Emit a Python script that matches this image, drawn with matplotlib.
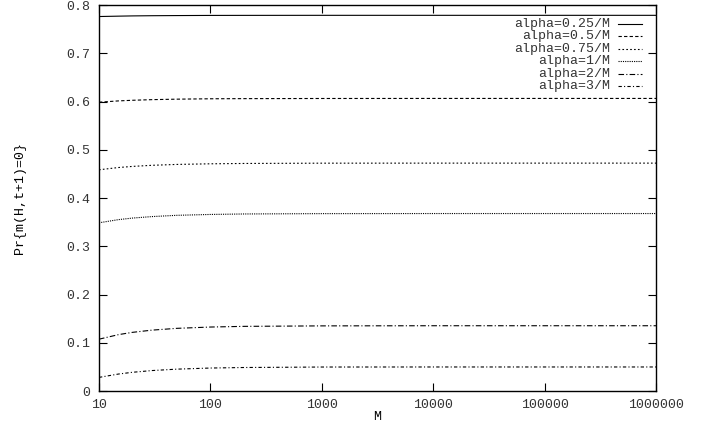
import matplotlib
matplotlib.use("Agg")
import matplotlib.pyplot as plt
from matplotlib.ticker import FixedLocator, FuncFormatter, NullLocator

plt.rcParams['font.family'] = ['Liberation Mono', 'DejaVu Sans Mono']
plt.rcParams['font.size'] = 9.5
plt.rcParams['text.color'] = '#333333'
plt.rcParams['xtick.labelcolor'] = '#333333'
plt.rcParams['ytick.labelcolor'] = '#333333'

# M values and Pr{m(H,t+1)=0}
M = [10, 15, 20, 30, 50, 100, 200, 1000, 10000, 100000, 1000000]
labels = ["alpha=0.25/M", "alpha=0.5/M", "alpha=0.75/M",
          "alpha=1/M", "alpha=2/M", "alpha=3/M"]
pr_025 = [0.7763, 0.7771, 0.7776, 0.7780, 0.7783, 0.7786, 0.7787, 0.7788, 0.7788, 0.7788, 0.7788]
pr_05 = [0.5987, 0.6014, 0.6027, 0.6040, 0.6050, 0.6058, 0.6061, 0.6064, 0.6065, 0.6065, 0.6065]
pr_075 = [0.4586, 0.4633, 0.4656, 0.4679, 0.4697, 0.4710, 0.4717, 0.4723, 0.4724, 0.4724, 0.4724]
pr_1 = [0.3487, 0.3553, 0.3585, 0.3616, 0.3642, 0.3660, 0.3670, 0.3677, 0.3679, 0.3679, 0.3679]
pr_2 = [0.1074, 0.1169, 0.1216, 0.1262, 0.1299, 0.1326, 0.1340, 0.1350, 0.1353, 0.1353, 0.1353]
pr_3 = [0.0282, 0.0352, 0.0388, 0.0424, 0.0453, 0.0476, 0.0487, 0.0497, 0.0498, 0.0498, 0.0498]
series = [pr_025, pr_05, pr_075, pr_1, pr_2, pr_3]

styles = ['-', (0, (3, 2)), (0, (1.5, 2)), (0, (1, 1)),
          (0, (5, 2, 1, 2)), (0, (3, 2, 1, 2))]

fig = plt.figure(figsize=(7.1, 4.25), dpi=100)
ax = fig.add_axes([0.1394, 0.080, 0.7846, 0.908])

for lab, ys, ls in zip(labels, series, styles):
    ax.plot(M, ys, color='black', lw=0.8, linestyle=ls)

# gnuplot-like key: right-aligned text, sample line on the right
for i, (lab, ls) in enumerate(zip(labels, styles)):
    yk = 0.951 - 0.0322 * i
    ax.text(0.9175, yk, lab, transform=ax.transAxes, ha='right', va='center')
    ax.plot([0.9318, 0.9749], [yk, yk], transform=ax.transAxes,
            color='black', lw=0.8, linestyle=ls, clip_on=False)

ax.set_xscale('log')
ax.set_xlim(10, 1000000)
ax.set_ylim(0, 0.8)
ax.xaxis.set_major_locator(FixedLocator([10, 100, 1000, 10000, 100000, 1000000]))
ax.xaxis.set_minor_locator(NullLocator())
ax.xaxis.set_major_formatter(FuncFormatter(lambda v, p: "%d" % v))
ax.set_yticks([0, 0.1, 0.2, 0.3, 0.4, 0.5, 0.6, 0.7, 0.8])
ax.yaxis.set_major_formatter(FuncFormatter(lambda v, p: "%g" % round(v, 2)))
ax.tick_params(direction='in', length=6, width=0.8, top=True, right=True, pad=6)
for s in ax.spines.values():
    s.set_linewidth(1.0)

ax.set_xlabel("M", labelpad=0)
ax.set_ylabel("Pr{m(H,t+1)=0}", labelpad=29)

fig.savefig("out.png", dpi=100)
